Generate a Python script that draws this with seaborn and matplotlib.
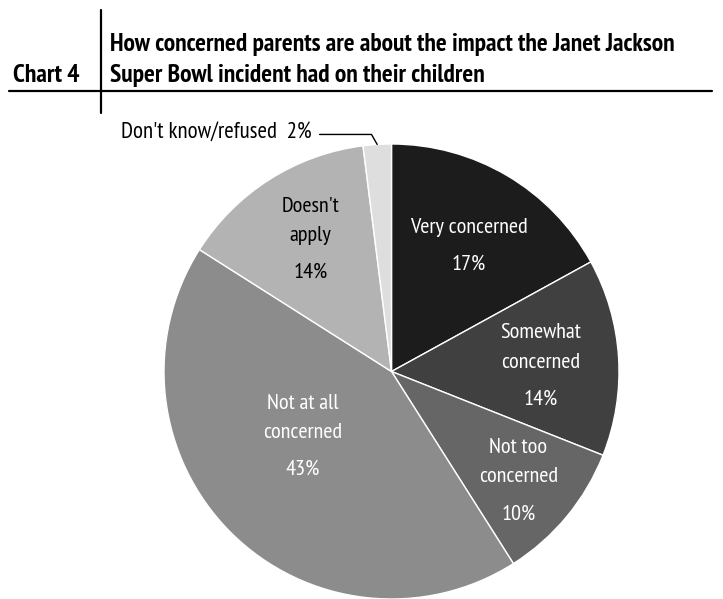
import numpy as np
import seaborn as sns
import matplotlib.pyplot as plt
from matplotlib.lines import Line2D
from matplotlib import font_manager

# チャートの値
categories = ["Very concerned", "Somewhat\nconcerned", "Not too\nconcerned",
              "Not at all\nconcerned", "Doesn't\napply", "Don't know/refused"]
shares = [17, 14, 10, 43, 14, 2]
slice_colors = ["#1c1c1c", "#404040", "#666666", "#8c8c8c", "#b3b3b3", "#dedede"]
label_colors = ["white", "white", "white", "white", "black", "black"]
# ラベル位置 (中心からの距離, 角度のずれ)
label_dist = [0.648, 0.658, 0.735, 0.481, 0.683]
label_turn = [-1, -1.3, -1, -9, -1]

chart_no = "Chart 4"
title_lines = ["How concerned parents are about the impact the Janet Jackson",
               "Super Bowl incident had on their children"]

sns.set_theme(style="white")
names = {f.name for f in font_manager.fontManager.ttflist}
prefs = ["PT Sans Narrow", "Fira Sans Condensed", "Open Sans Condensed",
         "Roboto Condensed", "Asap Condensed", "Barlow Semi Condensed", "Archivo Narrow"]
family = next((p for p in prefs if p in names), "DejaVu Sans")
plt.rcParams["font.family"] = [family, "DejaVu Sans"]
plt.rcParams["text.color"] = "black"

W, H = 723, 599
fig = plt.figure(figsize=(W / 100, H / 100), dpi=100)
ax = fig.add_axes([164 / W, 0.0, 455 / W, 455 / H])

wedges, _ = ax.pie(shares, colors=slice_colors, startangle=90, counterclock=False,
                   wedgeprops=dict(edgecolor="white", linewidth=1))
ax.set_xlim(-1, 1)
ax.set_ylim(-1, 1)
ax.set_aspect("equal")
ax.axis("off")

# スライス内のラベル (名前と%の間は少し広く)
pitch, gap = 31, 36
for w, name, val, col, d, t in zip(wedges, categories, shares, label_colors,
                                   label_dist, label_turn):
    mid = np.deg2rad((w.theta1 + w.theta2) / 2 + t)
    xy = (d * np.cos(mid), d * np.sin(mid))
    n = name.count("\n") + 1
    span = (n - 1) * pitch + gap
    ax.annotate(name, xy, xytext=(0, gap / 2), textcoords="offset pixels",
                ha="center", va="center", color=col, fontsize=16, linespacing=1.67)
    ax.annotate(f"{val}%", xy, xytext=(0, -span / 2), textcoords="offset pixels",
                ha="center", va="center", color=col, fontsize=16)

# 小さいスライスは外側に引き出し線
w = wedges[-1]
mid = np.deg2rad((w.theta1 + w.theta2) / 2)
ex, ey = np.cos(mid), np.sin(mid)
ax.plot([-0.316, -0.088, ex], [1.042, 1.042, ey], color="black", lw=1, clip_on=False)
ax.text(-0.35, 1.05, f"{categories[-1]}  {shares[-1]}%", ha="right", va="center",
        color="black", fontsize=16.5)

# ヘッダー
fig.text(13 / W, 1 - 82 / H, chart_no, ha="left", va="baseline",
         fontsize=18.5, fontweight="bold")
for line, base in zip(title_lines, [51, 82]):
    fig.text(110 / W, 1 - base / H, line, ha="left", va="baseline",
             fontsize=18.4, fontweight="bold")
fig.add_artist(Line2D([9 / W, 712 / W], [1 - 91 / H] * 2, color="black", lw=1.6))
fig.add_artist(Line2D([101 / W] * 2, [1 - 10 / H, 1 - 113 / H], color="black", lw=1.6))

fig.savefig("out.png", dpi=100)
